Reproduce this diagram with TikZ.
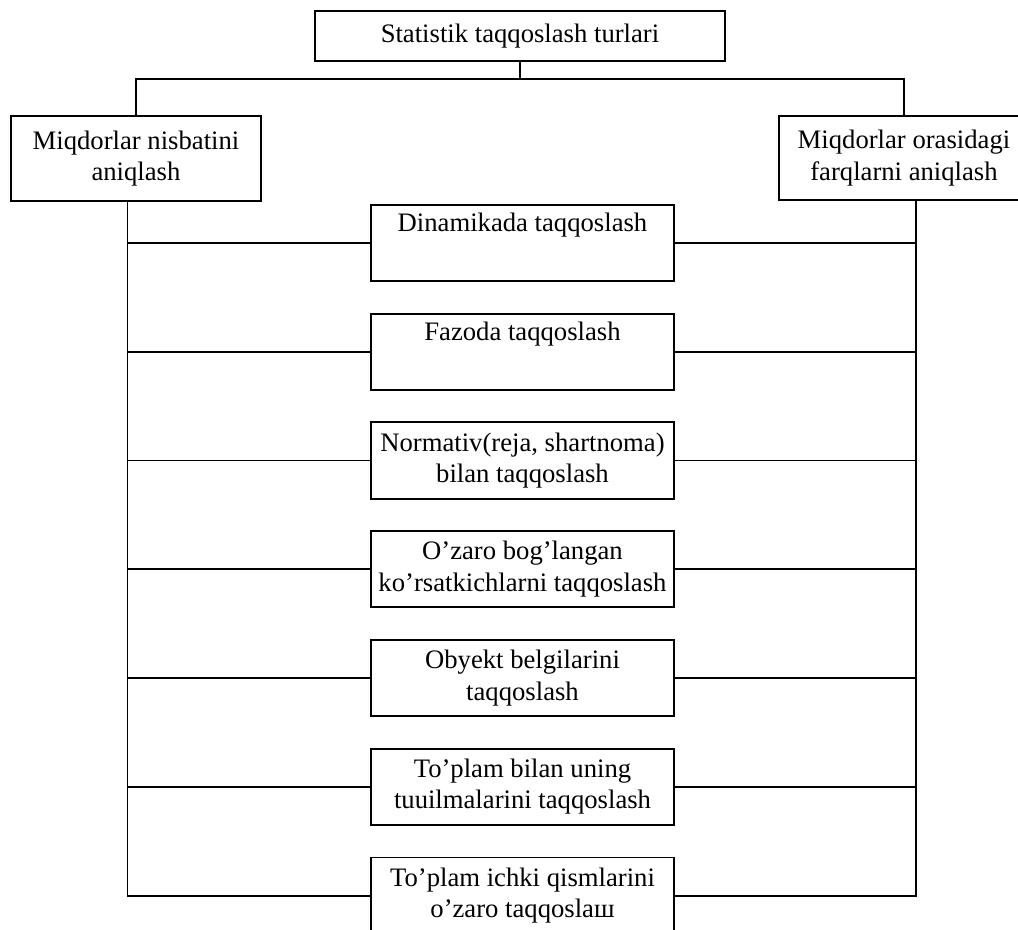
\documentclass[tikz,border=0pt]{standalone}
\usepackage{fontspec}
\setmainfont{Liberation Serif}
\usetikzlibrary{positioning}

\begin{document}
\begin{tikzpicture}[
    x=0.525pt, y=0.525pt,
    box/.style={draw, line width=1pt, fill=white, align=center, inner sep=2pt, font=\fontsize{14}{16.5}\selectfont},
    head/.style={box, minimum width=215pt, minimum height=26pt},
    side/.style={box, minimum width=131pt, minimum height=44.5pt},
    kind/.style={box, minimum width=159pt, minimum height=40pt},
    link/.style={line width=1pt},
    node distance=16.1pt
]
\useasboundingbox (0,0) rectangle (1018,-930);

% top level
\node[head] (turlar) at (520,-36) {Statistik taqqoslash turlari};
\node[side] (nisbat) at (136,-158.5) {Miqdorlar nisbatini\\aniqlash};
\node[side] (farq) at (904,-158) {Miqdorlar orasidagi\\farqlarni aniqlash};

% comparison kinds (middle column)
\node[kind] (dinamika) at (522.5,-243) {Dinamikada taqqoslash\\\strut};
\node[kind, below=of dinamika] (fazo) {Fazoda taqqoslash\\\strut};
\node[kind, below=of fazo] (normativ) {Normativ(reja, shartnoma)\\bilan taqqoslash};
\node[kind, below=of normativ] (bogliq) {O’zaro bog’langan\\ko’rsatkichlarni taqqoslash};
\node[kind, below=of bogliq] (obyekt) {Obyekt belgilarini\\taqqoslash};
\node[kind, below=of obyekt] (tuzilma) {To’plam bilan uning\\tuuilmalarini taqqoslash};
\node[kind, below=of tuzilma] (qism) {To’plam ichki qismlarini\\o’zaro taqqoslaш};

% fork under the title
\coordinate (fork) at (520,-78.7);
\draw[link] (turlar.south) -- (fork);
\draw[link] (nisbat.north) |- (fork) -| (farq.north);

% side trunks
\coordinate (lefttrunk) at (127.5,0);
\coordinate (righttrunk) at (916,0);
\draw[link] (nisbat.south -| lefttrunk) |- (qism.west);
\draw[link] (farq.south -| righttrunk) |- (qism.east);

% branches to each kind
\foreach \k in {dinamika,fazo,normativ,bogliq,obyekt,tuzilma}{
  \draw[link] (\k.west -| lefttrunk) -- (\k.west);
  \draw[link] (\k.east) -- (\k.east -| righttrunk);
}

\end{tikzpicture}
\end{document}
